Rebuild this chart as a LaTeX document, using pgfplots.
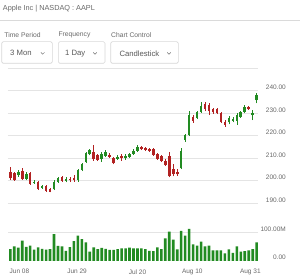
\documentclass[border=0pt]{standalone}
\usepackage{pgfplots}
\pgfplotsset{compat=1.18}
\usepackage{pgfplotstable}
\usepackage{fontspec}
\setmainfont{Liberation Sans}
\definecolor{cgreen}{RGB}{34,139,34}
\definecolor{cred}{RGB}{178,34,34}
\definecolor{gridc}{RGB}{228,228,228}
\definecolor{txt}{RGB}{105,105,105}
\definecolor{boxc}{RGB}{218,218,218}

\pgfplotstableread{
i o h l c
2 202.6 204.8 201.8 204.1
4 200.9 203.8 200.2 203.2
6 199.0 200.2 198.6 199.6
8 196.8 198.2 196.3 197.7
11 196.2 200.3 195.8 199.6
12 199.6 201.8 199.2 201.1
14 200.0 201.9 199.3 200.8
17 200.4 205.4 199.6 204.6
18 204.8 208.0 204.3 207.3
19 208.3 212.8 207.8 212.2
20 211.8 214.3 211.3 213.6
23 209.5 212.9 208.5 211.9
24 211.0 213.6 210.6 213.0
27 209.8 211.4 209.4 210.7
29 210.3 212.0 209.4 211.2
30 210.7 212.4 210.2 211.8
31 211.9 214.0 211.6 213.4
32 213.4 215.9 213.0 214.9
43 205.5 214.7 205.2 213.4
44 218.2 220.9 217.4 220.2
45 220.3 231.0 219.9 229.2
47 227.8 231.0 227.4 230.4
48 230.7 234.9 230.3 233.4
55 226.0 228.9 225.1 227.8
56 226.6 228.2 226.0 227.6
57 226.6 230.0 224.8 229.2
58 228.5 231.0 228.1 230.4
59 230.7 233.7 230.0 233.0
61 229.2 231.5 227.0 230.0
62 235.9 238.9 234.4 238.1
}\greentab

\pgfplotstableread{
i o h l c
0 204.1 206.3 200.4 201.1
1 203.3 204.0 200.0 200.4
3 204.5 205.5 200.4 200.7
5 203.6 204.1 198.2 198.6
7 199.4 199.8 196.0 196.3
9 197.7 198.0 195.2 195.6
10 196.5 197.0 194.8 195.2
13 201.6 202.3 199.6 200.0
15 201.0 201.9 199.4 200.2
16 201.2 202.4 199.6 200.4
21 212.9 215.9 208.9 209.5
22 211.5 211.9 208.7 209.2
25 211.6 212.2 210.2 210.7
26 210.2 210.7 207.3 207.8
28 211.2 212.1 209.0 210.3
33 214.9 215.4 213.6 214.0
34 214.4 214.9 213.2 213.7
35 214.2 214.7 212.8 213.2
36 214.0 214.4 211.1 211.5
37 212.0 212.5 209.4 209.8
38 210.9 211.6 208.3 208.7
39 208.9 209.5 206.6 207.0
40 211.2 213.0 201.5 202.0
41 205.2 207.3 202.0 203.0
42 203.8 205.2 202.2 202.9
46 228.5 229.3 225.9 226.6
49 234.0 234.9 231.0 231.9
50 233.7 234.5 229.2 231.0
51 231.9 232.5 229.9 230.4
52 231.9 232.4 229.6 230.0
53 230.0 230.5 225.9 226.3
54 226.3 227.0 224.0 224.8
60 232.7 233.3 231.5 231.9
}\redtab

\pgfplotstableread{
i v
0 41
1 51
2 46
3 71
4 49
5 53
6 39
7 47
8 42
9 39
10 41
11 94
12 52
13 51
14 35
15 48
16 69
17 88
18 76
19 65
20 32
21 47
22 41
23 45
24 42
25 38
26 38
27 41
28 44
29 44
30 46
31 44
32 44
33 44
34 41
35 35
36 34
37 47
38 41
39 79
40 102
41 74
42 40
43 105
44 88
45 112
46 58
47 53
48 67
49 51
50 53
51 37
52 37
53 37
54 26
55 40
56 28
57 51
58 32
59 34
60 37
61 41
62 65
}\voltab

\pgfplotsset{
  chartbase/.style={
    scale only axis, anchor=south west,
    width=250pt,
    xmin=-0.58, xmax=62.33,
    axis line style={draw=none},
    tick style={draw=none},
    major tick length=0pt,
    ymajorgrids, grid style={gridc, line width=0.6pt},
    yticklabel pos=right,
    yticklabel style={anchor=east, inner sep=0pt, xshift=28pt, yshift=3.3pt,
      font=\fontsize{6.5}{7}\selectfont, text=txt},
  },
  bodyG/.style={draw=none, mark=none, forget plot,
    error bars/.cd, y dir=both, y explicit, error mark=none,
    error bar style={draw=cgreen, line width=2.6pt}},
  bodyR/.style={draw=none, mark=none, forget plot,
    error bars/.cd, y dir=both, y explicit, error mark=none,
    error bar style={draw=cred, line width=2.6pt}},
  wickG/.style={draw=none, mark=none, forget plot,
    error bars/.cd, y dir=plus, y explicit, error mark=none,
    error bar style={draw=cgreen, line width=0.6pt}},
  wickR/.style={draw=none, mark=none, forget plot,
    error bars/.cd, y dir=plus, y explicit, error mark=none,
    error bar style={draw=cred, line width=0.6pt}},
}

\begin{document}
\begin{tikzpicture}[x=1pt,y=1pt]
\path[use as bounding box, fill=white] (0,0) rectangle (300,280);

% header
\node[anchor=west, inner sep=0pt, text=txt, font=\fontsize{7.3}{8}\selectfont] at (2.7,271.5) {Apple Inc | NASDAQ : AAPL};
\draw[boxc, line width=0.6pt] (0,260) -- (300,260);

% control labels
\begin{scope}[every node/.style={anchor=west, inner sep=0pt, text=txt, font=\fontsize{6.75}{8}\selectfont}]
\node at (4.3,245) {Time Period};
\node at (58.3,245) {Frequency};
\node at (111,245) {Chart Control};
\end{scope}

% dropdown boxes
\foreach \a/\b in {1.7/52.3, 58.3/105, 110.7/178.3}{
  \fill[black!4, rounded corners=1.5pt] (\a,216.0) rectangle (\b,237.8);
  \draw[boxc, line width=0.6pt, fill=white, rounded corners=1.5pt] (\a,216.7) rectangle (\b,238.3);
}
\begin{scope}[every node/.style={anchor=west, inner sep=0pt, text=black!65, font=\fontsize{7.7}{9}\selectfont}]
\node at (10,226.7) {3 Mon};
\node at (65,226.7) {1 Day};
\node at (119.3,226.7) {Candlestick};
\end{scope}
\foreach \c in {42.7, 95, 169}{
  \draw[black!55, line width=0.5pt] (\c-1.8,227.6) -- (\c,225.8) -- (\c+1.8,227.6);
}

% price chart
\begin{axis}[chartbase,
  at={(8pt,76.7pt)}, height=135pt,
  ymin=190, ymax=250,
  ytick={190,200,210,220,230,240,250},
  yticklabels={190.00,200.00,210.00,220.00,230.00,240.00,},
  xtick=\empty,
]
\addplot[wickG] table[x=i, y=l, y error plus expr=\thisrow{h}-\thisrow{l}] {\greentab};
\addplot[wickR] table[x=i, y=l, y error plus expr=\thisrow{h}-\thisrow{l}] {\redtab};
\addplot[bodyG] table[x=i, y=o, y error plus expr=\thisrow{c}-\thisrow{o}, y error minus expr=0] {\greentab};
\addplot[bodyR] table[x=i, y=c, y error plus expr=\thisrow{o}-\thisrow{c}, y error minus expr=0] {\redtab};
\end{axis}

% volume chart
\begin{axis}[chartbase,
  at={(8pt,19.2pt)}, height=57pt,
  ymin=0, ymax=200,
  ytick={100,200}, yticklabels={100.00M,},
  extra y ticks={0}, extra y tick labels={0.00},
  extra y tick style={grid=none},
  xtick={2.3,16.8,32,45.8,60.4},
  xticklabels={Jun 08,Jun 29,Jul 20,Aug 10,Aug 31},
  xticklabel style={font=\fontsize{6.5}{7}\selectfont, text=txt, yshift=-5pt},
]
\addplot[ybar, bar width=2.6pt, fill=cgreen, draw=none] table[x=i, y=v] {\voltab};
\end{axis}
\end{tikzpicture}
\end{document}
